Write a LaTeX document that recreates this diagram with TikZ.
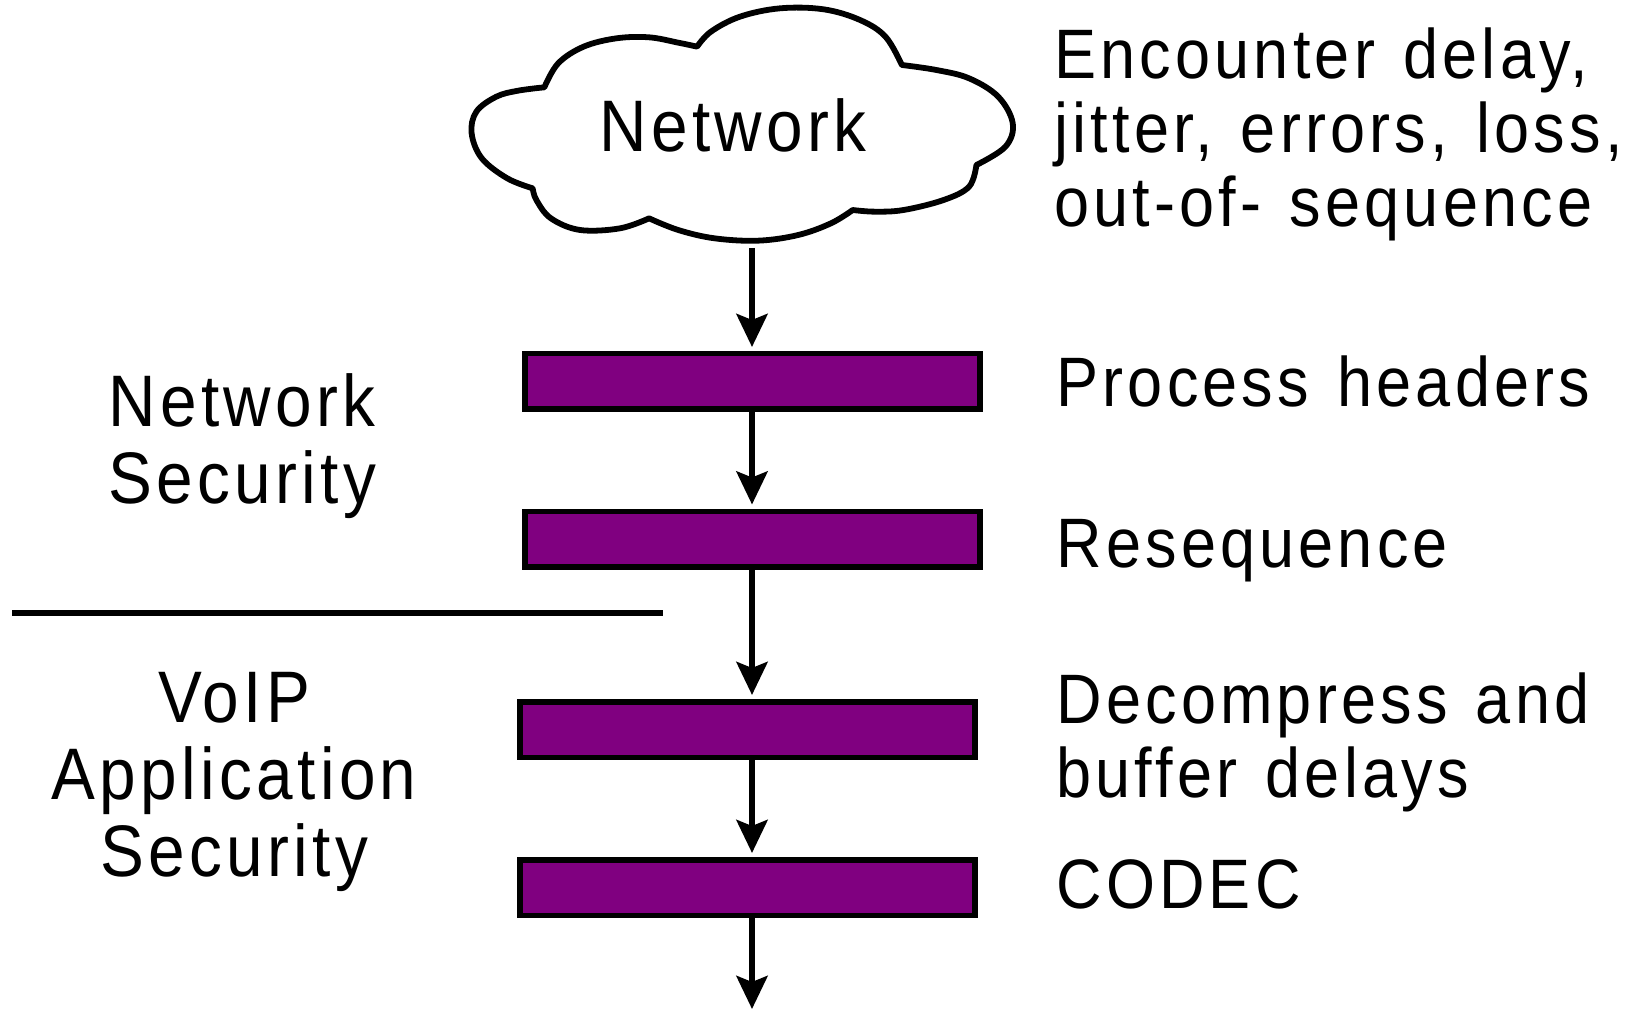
\documentclass[tikz,border=0pt]{standalone}
\usepackage{fontspec}
\setmainfont{Liberation Sans}[FakeStretch=0.9,LetterSpace=6,WordSpace=1.3]
\usetikzlibrary{arrows.meta}
\definecolor{barpurple}{RGB}{128,0,128}
\begin{document}
\begin{tikzpicture}[x=0.5pt,y=-0.5pt,
  bar/.style={draw=black,line width=2.75pt,fill=barpurple,minimum width=227.5pt,minimum height=27.75pt,inner sep=0pt},
  flow/.style={line width=3pt,-{Stealth[length=16.5pt,width=15.5pt,inset=3pt]},shorten >=2pt},
  rtext/.style={anchor=base west,align=left,inner sep=0pt,font=\fontsize{35}{37}\selectfont},
  ltext/.style={anchor=base,align=center,inner sep=0pt,font=\fontsize{36.5}{38.5}\selectfont},
  cloudline/.style={line width=2.9pt,line join=round}]
\useasboundingbox (0,0) rectangle (1648,1010);

% cloud outline, one smooth run per bump
\begin{scope}[shift={(460,0)},xscale=1/2.75,yscale=1/3]
\draw[cloudline,fill=white]
  plot[smooth,tension=0.6] coordinates {(200,565) (130,535) (60,475) (32,400) (45,335) (100,290) (160,272) (232,262)}
  -- plot[smooth,tension=0.6] coordinates {(232,262) (270,190) (340,140) (430,115) (520,112) (600,128) (652,140)}
  -- plot[smooth,tension=0.6] coordinates {(652,140) (690,95) (770,50) (880,25) (1000,28) (1100,60) (1170,110) (1215,195)}
  -- plot[smooth,tension=0.6] coordinates {(1215,195) (1310,210) (1400,235) (1480,290) (1520,370) (1500,440) (1420,495)}
  -- plot[smooth,tension=0.6] coordinates {(1420,495) (1400,560) (1330,600) (1220,630) (1140,635) (1080,630)}
  -- plot[smooth,tension=0.6] coordinates {(1080,630) (1020,670) (930,705) (820,722) (700,715) (600,690) (520,655)}
  -- plot[smooth,tension=0.6] coordinates {(520,655) (440,685) (330,690) (250,655) (210,600) (200,565)}
  -- cycle;
\end{scope}
\node[ltext] (net) at (733,152) {Network};
\coordinate (cloudbot) at (752,248);

% processing stages
\node[bar] (b1) at (752.5,381.5) {};
\node[bar] (b2) at (752.5,539) {};
\node[bar] (b3) at (747.5,729.5) {};
\node[bar] (b4) at (747.5,887.5) {};
\coordinate (axis) at (752,0);
\coordinate (out) at (752,1009);

\draw[flow] (cloudbot) -- (b1.north -| axis);
\draw[flow] (b1.south -| axis) -- (b2.north -| axis);
\draw[flow] (b2.south -| axis) -- (b3.north -| axis);
\draw[flow] (b3.south -| axis) -- (b4.north -| axis);
\draw[flow,shorten >=0pt] (b4.south -| axis) -- (out);

% divider between the two security layers
\coordinate (divL) at (12,613);
\coordinate (divR) at (663,613);
\draw[line width=3pt] (divL) -- (divR);

% layer labels (base anchor sits on the last line)
\node[ltext] (netsec) at (242,503) {Network\\Security};
\node[ltext] (appsec) at (234,876) {VoIP\\Application\\Security};

% stage descriptions
\node[rtext] (d0) at (1054,227) {Encounter delay,\\jitter, errors, loss,\\out-of- sequence};
\node[rtext] (d1) at (1056,407) {Process headers};
\node[rtext] (d2) at (1056,567) {Resequence};
\node[rtext] (d3) at (1056,797) {Decompress and\\buffer delays};
\node[rtext] (d4) at (1056,908) {CODEC};
\end{tikzpicture}
\end{document}
